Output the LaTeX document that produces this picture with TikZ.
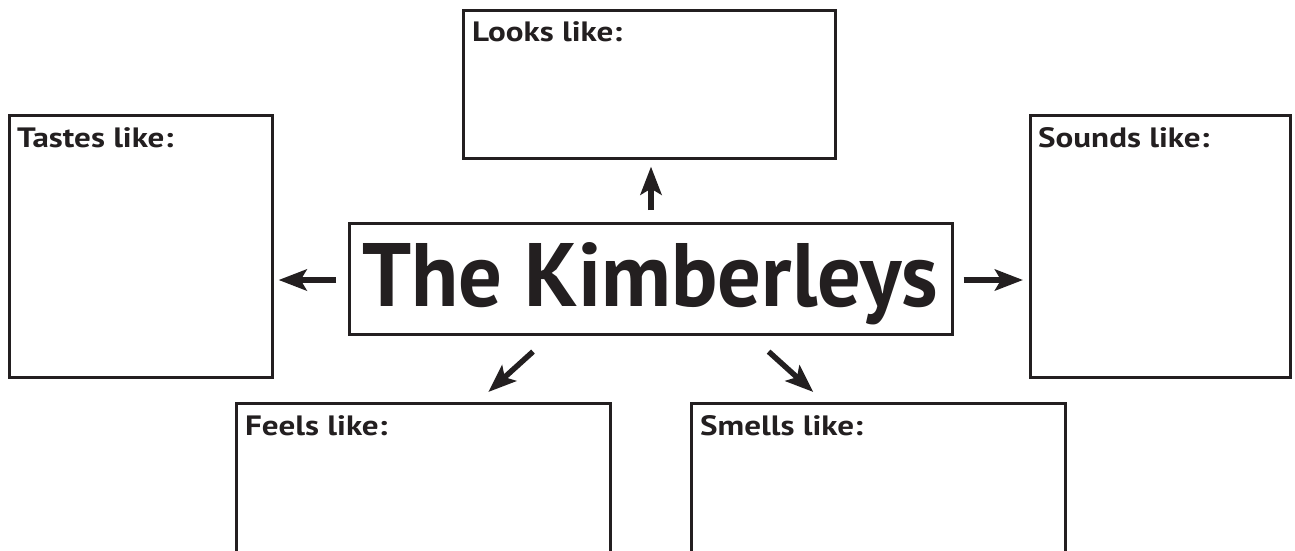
\documentclass[tikz,border=0pt]{standalone}
\usepackage{fontspec}
\setmainfont{PT Sans}
\newfontfamily\labfont[FakeStretch=1.18]{PT Sans}
\usetikzlibrary{arrows.meta,calc}
\definecolor{ink}{HTML}{231F20}
\begin{document}
\begin{tikzpicture}[x=1pt,y=-1pt,
  box/.style={draw=ink, line width=2.6pt, rectangle, inner sep=0pt, anchor=north west},
  lab/.style={font=\labfont\bfseries\fontsize{28}{28}\selectfont, text=ink, inner sep=0pt, anchor=base west},
  arr/.style={draw=ink, line width=5.5pt, -{Stealth[length=28pt,width=21pt,inset=6pt]}}]
\useasboundingbox[fill=white] (0,0) rectangle (1295,550);
% boxes
\node[box, minimum width=372, minimum height=148] (looks) at (462,9) {};
\node[box, minimum width=263, minimum height=262] (tastes) at (8,114) {};
\node[box, minimum width=260, minimum height=262] (sounds) at (1029,114) {};
\node[box, minimum width=374, minimum height=170] (feels) at (235,402) {};
\node[box, minimum width=374, minimum height=170] (smells) at (690,402) {};
\node[box, minimum width=603, minimum height=111] (title) at (348,222) {};
% labels
\node[lab] (looksl) at (472,41) {Looks like:};
\node[lab] (tastesl) at (17,147) {Tastes like:};
\node[lab] (soundsl) at (1038,147) {Sounds like:};
\node[lab] (feelsl) at (245,435) {Feels like:};
\node[lab] (smellsl) at (700,435) {Smells like:};
\node[inner sep=0pt, anchor=base west, text=ink] (titlet) at (362,306)
  {\resizebox{576pt}{64pt}{\bfseries The Kimberleys}};
% arrows
\draw[arr, shorten <=12pt, shorten >=7pt] (title.north -| 651,0) -- (looks.south -| 651,0);
\draw[arr, shorten <=12pt, shorten >=5pt] (title.west |- 0,280) -- (tastes.east |- 0,280);
\draw[arr, shorten <=10pt, shorten >=6pt] (title.east |- 0,280) -- (sounds.west |- 0,280);
\draw[arr] ($(title.south west)+(185,16)$) -- ($(feels.north)+(65,-10)$);
\draw[arr] ($(title.south east)+(-185,16)$) -- ($(smells.north)+(-65,-10)$);
\end{tikzpicture}
\end{document}
